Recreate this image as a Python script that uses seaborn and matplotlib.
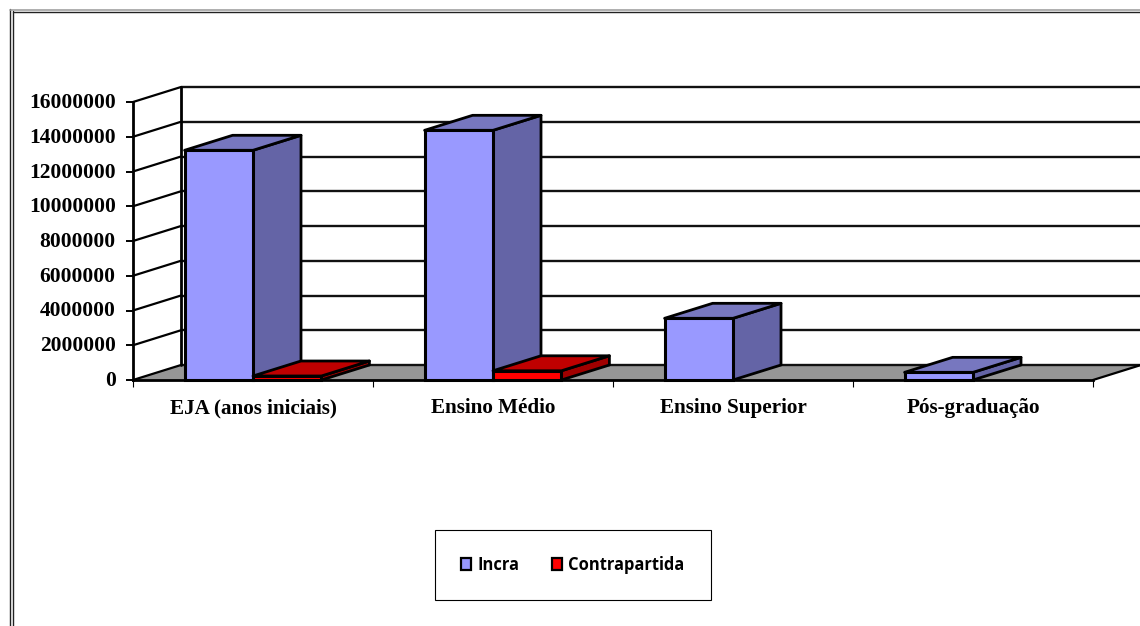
import matplotlib
matplotlib.use("Agg")
import matplotlib.pyplot as plt
from matplotlib.lines import Line2D
from matplotlib.patches import Polygon
from matplotlib.ticker import FuncFormatter
from matplotlib.transforms import ScaledTranslation
import pandas as pd
import seaborn as sns

categories = ["EJA (anos iniciais)", "Ensino Médio", "Ensino Superior", "Pós-graduação"]
incra = [13220000, 14370000, 3550000, 440000]
contrapartida = [230000, 530000, 0, 0]
series_names = ["Incra", "Contrapartida"]
y_ticks = list(range(0, 16000001, 2000000))

W, H = 1140, 626
L, R, T, B = 133, 1093, 102, 380
DEPTH_PX_X, DEPTH_PX_Y = 48, 15

sns.set_theme(style="white")
plt.rcParams["font.family"] = ["Liberation Serif", "DejaVu Serif"]

df = pd.DataFrame({
    "categoria": categories * 2,
    "serie": [series_names[0]] * 4 + [series_names[1]] * 4,
    "valor": incra + contrapartida,
})

fig = plt.figure(figsize=(W / 100, H / 100), dpi=100, facecolor="white")
ax = fig.add_axes([L / W, 1 - B / H, (R - L) / W, (B - T) / H])
FRONT = {"Incra": "#9999FF", "Contrapartida": "#FF0000"}
TOP = {"Incra": "#7777BF", "Contrapartida": "#BF0000"}
SIDE = {"Incra": "#6464A6", "Contrapartida": "#A00000"}

sns.barplot(data=df, x="categoria", y="valor", hue="serie", palette=FRONT,
            hue_order=series_names, order=categories, width=0.57, gap=0, saturation=1,
            edgecolor="black", linewidth=2.2, legend=False, ax=ax, zorder=5)

ax.set_xlim(-0.5, 3.5)
ax.set_ylim(0, y_ticks[-1])
dx = DEPTH_PX_X * 4 / (R - L)
dy = DEPTH_PX_Y * y_ticks[-1] / (B - T)

# back wall, floor and gridlines
ax.add_patch(Polygon([(-0.5, 0), (3.5, 0), (3.5 + dx, dy), (-0.5 + dx, dy)], closed=True,
                     facecolor="#969696", edgecolor="none", zorder=1, clip_on=False))
for t in y_ticks:
    ax.plot([-0.5 + dx, 3.5 + dx], [t + dy, t + dy], color="#111111", lw=1.7, zorder=2,
            clip_on=False, solid_capstyle="butt")
    ax.plot([-0.5, -0.5 + dx], [t, t + dy], color="black", lw=1.6, zorder=2, clip_on=False)
ax.plot([-0.5 + dx, -0.5 + dx], [dy, y_ticks[-1] + dy], color="black", lw=2.0, zorder=2, clip_on=False)
ax.plot([3.5, 3.5 + dx], [0, dy], color="black", lw=1.6, zorder=2, clip_on=False)

# 3-D faces derived from each bar
rects = [p for p in ax.patches if hasattr(p, "get_height") and not isinstance(p, Polygon)]
names = [series_names[0]] * 4 + [series_names[1]] * 4
for i, (rect, name) in enumerate(zip(rects, names)):
    h = rect.get_height()
    if not h:
        rect.set_visible(False)
        continue
    x0, x1 = rect.get_x(), rect.get_x() + rect.get_width()
    z = 5 + i * 0.1 + (1 if name == "Contrapartida" else 0)
    ax.add_patch(Polygon([(x1, 0), (x1 + dx, dy), (x1 + dx, h + dy), (x1, h)], closed=True,
                         facecolor=SIDE[name], edgecolor="black", lw=2.0, zorder=z,
                         clip_on=False, joinstyle="round"))
    ax.add_patch(Polygon([(x0, h), (x1, h), (x1 + dx, h + dy), (x0 + dx, h + dy)], closed=True,
                         facecolor=TOP[name], edgecolor="black", lw=2.0, zorder=z + 0.01,
                         clip_on=False, joinstyle="round"))
    rect.set_zorder(z + 0.02)
    rect.set_clip_on(False)

sns.despine(ax=ax, top=True, right=True)
for s in ("left", "bottom"):
    ax.spines[s].set_color("black")
    ax.spines[s].set_linewidth(2.0)
    ax.spines[s].set_zorder(7)
ax.set_yticks(y_ticks)
ax.yaxis.set_major_formatter(FuncFormatter(lambda v, _: f"{int(v)}"))
ax.set_xticks([-0.5, 0.5, 1.5, 2.5, 3.5], minor=False)
ax.set_xticklabels([])
ax.tick_params(axis="y", left=True, length=5, width=1.4, color="black", pad=7.5, labelsize=15.5,
               labelcolor="black")
ax.tick_params(axis="x", bottom=True, length=5, width=0.8, color="black")
lift = ScaledTranslation(0, 1.5 / 100, fig.dpi_scale_trans)
for lab in ax.get_yticklabels():
    lab.set_fontweight("bold")
    lab.set_transform(lab.get_transform() + lift)
for i, c in enumerate(categories):
    ax.annotate(c, xy=(i, 0), xytext=(0, -33), textcoords="offset pixels", ha="center", va="baseline",
                fontsize=15.2, fontweight="bold", color="black", annotation_clip=False)
ax.set_xlabel("")
ax.set_ylabel("")

handles = [plt.Rectangle((0, 0), 1, 1, facecolor=FRONT[n], edgecolor="black", lw=1.6) for n in series_names]
leg = fig.legend(handles, series_names, loc="center",
                 bbox_to_anchor=(435 / W, 1 - 600 / H, 276 / W, 70 / H), mode="expand",
                 ncol=2, fancybox=False, framealpha=1, edgecolor="black", facecolor="white",
                 prop={"family": "Open Sans", "weight": "bold", "size": 11.9}, borderpad=1.6,
                 handlelength=0.6, handleheight=0.75, handletextpad=0.4, columnspacing=1.7,
                 borderaxespad=0)
leg.get_frame().set_linewidth(0.8)
for t in leg.get_texts():
    t.set_color("black")

# outer double frame of the original page
def fx(x):
    return x / W
def fy(y):
    return 1 - y / H
fig.add_artist(Line2D([fx(9.5), fx(9.5)], [fy(9), 0], color="#222222", lw=1.0))
fig.add_artist(Line2D([fx(12.5), fx(12.5)], [fy(11), 0], color="#222222", lw=1.0))
fig.add_artist(Line2D([fx(9.5), 1], [fy(9.7), fy(9.7)], color="#999999", lw=1.1))
fig.add_artist(Line2D([fx(12.5), 1], [fy(11.5), fy(11.5)], color="#222222", lw=1.0))

fig.savefig("out.png", dpi=100)
